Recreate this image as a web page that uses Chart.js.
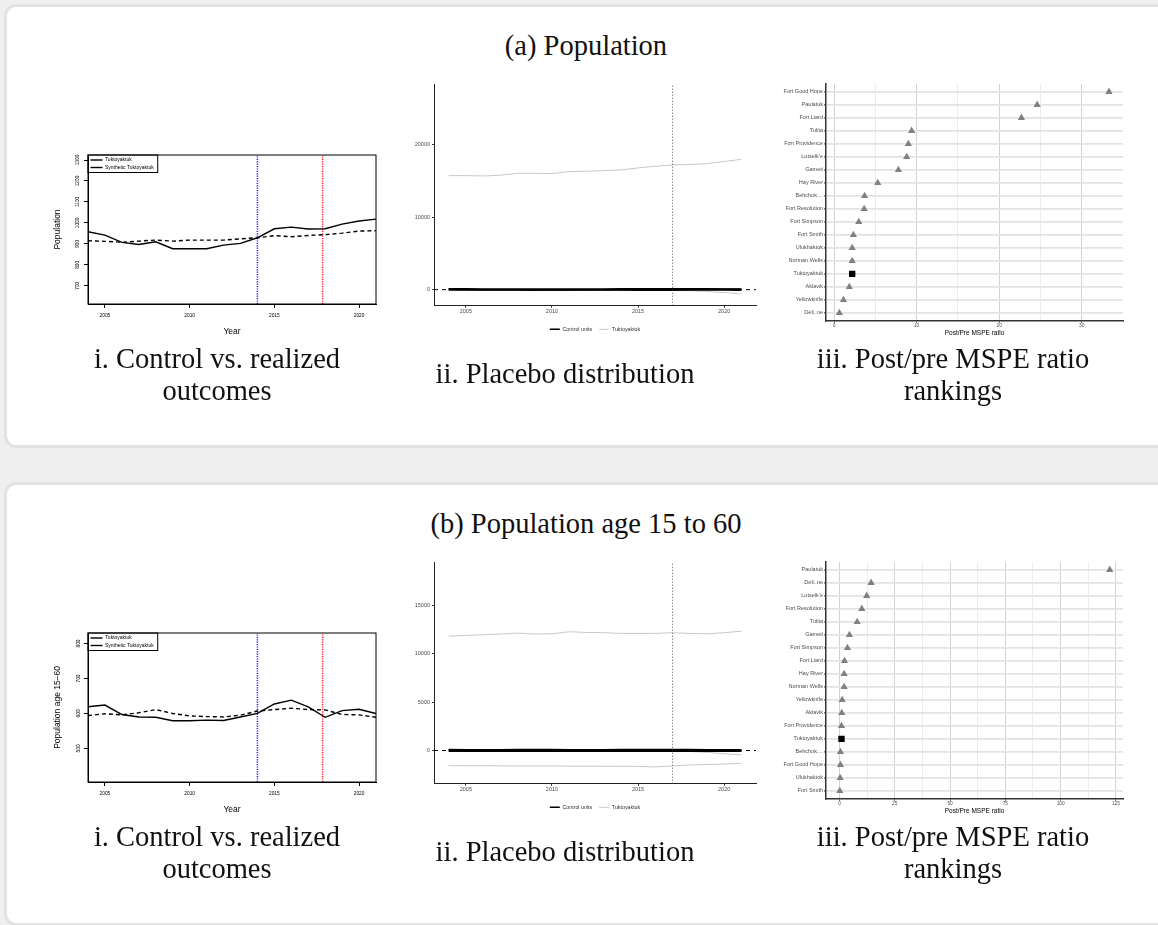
<!DOCTYPE html>
<html>
<head>
<meta charset="utf-8">
<script src="https://cdn.jsdelivr.net/npm/chart.js@4.4.1/dist/chart.umd.min.js"></script>
<style>
html, body { margin: 0; padding: 0; background: #efefef; width: 1158px; height: 925px; overflow: hidden; }
.card { position: absolute; left: 4px; width: 1190px; height: 444px; background: #fff; border: 3px solid #e2e2e2; border-radius: 12px; box-sizing: border-box; }
canvas { position: absolute; }
.txt { position: absolute; font-family: "Liberation Serif", "Times New Roman", serif; font-size: 28.5px; line-height: 32px; text-align: center; color: #111; white-space: nowrap; }
</style>
</head>
<body>
<div class="card" style="top:4px"></div>
<div class="card" style="top:482px"></div>

<div class="txt" style="left:0;width:1172px;top:30px">(a) Population</div>
<canvas id="a1" width="345" height="205" style="left:40px;top:140px"></canvas>
<canvas id="a2" width="390" height="280" style="left:380px;top:75px"></canvas>
<canvas id="a3" width="390" height="265" style="left:760px;top:75px"></canvas>
<div class="txt" style="left:17px;width:400px;top:343px">i. Control vs. realized<br>outcomes</div>
<div class="txt" style="left:365px;width:400px;top:358px">ii. Placebo distribution</div>
<div class="txt" style="left:753px;width:400px;top:343px">iii. Post/pre MSPE ratio<br>rankings</div>

<div class="txt" style="left:0;width:1172px;top:508px">(b) Population age 15 to 60</div>
<canvas id="b1" width="345" height="205" style="left:40px;top:618px"></canvas>
<canvas id="b2" width="390" height="280" style="left:380px;top:553px"></canvas>
<canvas id="b3" width="390" height="265" style="left:760px;top:553px"></canvas>
<div class="txt" style="left:17px;width:400px;top:821px">i. Control vs. realized<br>outcomes</div>
<div class="txt" style="left:365px;width:400px;top:836px">ii. Placebo distribution</div>
<div class="txt" style="left:753px;width:400px;top:821px">iii. Post/pre MSPE ratio<br>rankings</div>

<script>
// ---- data ----
const years = [2004, 2005, 2006, 2007, 2008, 2009, 2010, 2011, 2012, 2013, 2014, 2015, 2016, 2017, 2018, 2019, 2020, 2021];
const treatYear = 2014;
const postYear = 2017.85;
const placeboYear = 2017;

// (a) population
const popActual = [958, 942, 907, 897, 910, 877, 877, 877, 894, 902, 929, 972, 980, 971, 972, 994, 1009, 1018];
const popSynth  = [915, 912, 908, 913, 918, 913, 918, 918, 918, 924, 929, 939, 934, 940, 944, 951, 961, 963];
const popTicks = [700, 800, 900, 1000, 1100, 1200, 1300];

const popControl1 = [43, 30, -1, -16, -8, -36, -41, -41, -24, -22, 0, 33, 46, 31, 28, 43, 48, 55];
const popControl2 = [120, 110, 100, 95, 90, 80, 85, 90, 100, 105, 110, 120, 125, 130, 120, 110, 100, 90];
const popControl3 = [-60, -50, -40, -50, -60, -70, -60, -50, -40, -50, -60, -70, -80, -70, -60, -50, -60, -70];
const popGrayHigh = [15750, 15750, 15700, 15800, 16070, 16070, 16030, 16300, 16350, 16440, 16540, 16810, 17040, 17230, 17280, 17410, 17690, 18010];
const popGrayLow  = [40, 30, 20, 10, 0, -10, -20, -20, -30, -20, -10, 0, 10, 0, -150, -250, -400, -600];
const popPlaceboTicks = [0, 10000, 20000];

const popNames = ['Fort Good Hope', 'Paulatuk', 'Fort Liard', 'Tulita', 'Fort Providence', 'Lutselk’e', 'Gameti', 'Hay River', 'Behchok....', 'Fort Resolution', 'Fort Simpson', 'Fort Smith', 'Ulukhaktok', 'Norman Wells', 'Tuktoyaktuk', 'Aklavik', 'Yellowknife', 'Déli..ne'];
const popRatio = [33.3, 24.6, 22.7, 9.4, 9.0, 8.8, 7.8, 5.3, 3.7, 3.65, 3.0, 2.35, 2.2, 2.2, 2.2, 1.85, 1.15, 0.65];

// (b) population age 15 to 60
const ageActual = [619, 624, 597, 590, 589, 579, 579, 581, 580, 590, 600, 627, 638, 619, 589, 608, 612, 600];
const ageSynth  = [594, 599, 596, 602, 611, 600, 593, 591, 590, 595, 607, 611, 615, 611, 610, 597, 596, 589];
const ageTicks = [500, 600, 700, 800];

const ageControl1 = [25, 25, 1, -12, -22, -21, -14, -10, -10, -5, -7, 16, 23, 8, -21, 11, 16, 11];
const ageControl2 = [90, 85, 80, 85, 90, 95, 90, 85, 80, 85, 90, 95, 100, 95, 90, 85, 80, 85];
const ageControl3 = [-80, -85, -90, -85, -80, -75, -80, -85, -90, -85, -80, -75, -70, -75, -80, -85, -90, -85];
const ageGrayHigh = [11840, 11910, 11980, 12050, 12150, 12050, 12080, 12290, 12220, 12190, 12120, 12120, 12120, 12190, 12120, 12080, 12190, 12360];
const ageGrayMid  = [30, 20, 10, 0, -10, -20, -20, -10, 0, 10, 20, 10, 0, -20, -100, -200, -330, -450];
const ageGrayLow  = [-1560, -1580, -1580, -1590, -1600, -1600, -1600, -1620, -1620, -1630, -1640, -1650, -1700, -1600, -1500, -1450, -1400, -1350];
const agePlaceboTicks = [0, 5000, 10000, 15000];

const ageNames = ['Paulatuk', 'Déli..ne', 'Lutselk’e', 'Fort Resolution', 'Tulita', 'Gameti', 'Fort Simpson', 'Fort Liard', 'Hay River', 'Norman Wells', 'Yellowknife', 'Aklavik', 'Fort Providence', 'Tuktoyaktuk', 'Behchok....', 'Fort Good Hope', 'Ulukhaktok', 'Fort Smith'];
const ageRatio = [122.2, 14.3, 12.3, 10.1, 8.0, 4.5, 3.6, 2.25, 2.1, 2.1, 1.2, 1.05, 0.9, 0.9, 0.45, 0.45, 0.3, 0.15];

// ---- setup ----
Chart.defaults.font.family = '"Liberation Sans", Arial, Helvetica, sans-serif';
Chart.defaults.color = '#000';
Chart.defaults.animation = false;
Chart.defaults.responsive = false;
Chart.defaults.plugins.tooltip.enabled = false;

// legend placed in the top-left corner of the plot, with a box round it (base R look)
Chart.register({
  id: 'frame',
  afterLayout(chart, args, opts) {
    if (!opts.legend || !chart.legend) return;
    const lg = chart.legend, a = chart.chartArea;
    lg.left = a.left; lg.top = a.top; lg.right = a.right; lg.bottom = a.bottom;
    lg.width = a.right - a.left; lg.height = a.bottom - a.top;
  },
  afterDraw(chart, args, opts) {
    const ctx = chart.ctx, a = chart.chartArea;
    ctx.save();
    ctx.strokeStyle = '#000';
    ctx.lineWidth = 1;
    if (opts.box) ctx.strokeRect(a.left, a.top, a.right - a.left, a.bottom - a.top);
    if (opts.legend && chart.legend && chart.legend.legendHitBoxes.length) {
      let r = 0, b = 0;
      chart.legend.legendHitBoxes.forEach(h => { r = Math.max(r, h.left + h.width); b = Math.max(b, h.top + h.height); });
      ctx.strokeRect(a.left, a.top, r + 4 - a.left, b + 2.5 - a.top);
    }
    ctx.restore();
  }
});

const pts = arr => years.map((x, i) => ({ x: x, y: arr[i] }));
const setTicks = vals => s => { s.ticks = vals.map(v => ({ value: v })); };

function controlChart(id, actual, synth, yMin, yMax, yTicks, yTitle) {
  new Chart(document.getElementById(id), {
    type: 'line',
    data: {
      datasets: [
        { label: 'Tuktoyaktuk', data: pts(actual), borderColor: '#000', borderWidth: 1.4, pointRadius: 0 },
        { label: 'Synthetic Tuktoyaktuk', data: pts(synth), borderColor: '#000', borderWidth: 1.4, borderDash: [4, 3], pointRadius: 0 },
        { label: 'treat', data: [{ x: treatYear, y: yMin }, { x: treatYear, y: yMax }], borderColor: '#2020ff', borderWidth: 1.5, borderDash: [1.2, 1.2], pointRadius: 0 },
        { label: 'post', data: [{ x: postYear, y: yMin }, { x: postYear, y: yMax }], borderColor: '#ff2020', borderWidth: 1.5, borderDash: [1.2, 1.2], pointRadius: 0 }
      ]
    },
    options: {
      layout: { padding: { top: 15, right: 9, left: 0, bottom: 0 } },
      plugins: {
        frame: { box: true, legend: true },
        legend: {
          position: 'chartArea', align: 'start',
          labels: {
            usePointStyle: true, pointStyle: 'line', pointStyleWidth: 12,
            font: { size: 5 }, color: '#000', padding: 2.5,
            filter: item => item.datasetIndex < 2
          }
        }
      },
      scales: {
        x: {
          type: 'linear', min: 2004, max: 2021,
          afterBuildTicks: setTicks([2005, 2010, 2015, 2020]),
          afterFit: s => { s.height = 41; },
          grid: { drawOnChartArea: false, tickLength: 4, color: '#000' },
          border: { color: '#000' },
          ticks: { font: { size: 4.8 }, color: '#000', padding: 4.5, maxRotation: 0, autoSkip: false, callback: v => String(v) },
          title: { display: true, text: 'Year', font: { size: 8.5 }, color: '#000', padding: { top: 0, bottom: 8 } }
        },
        y: {
          min: yMin, max: yMax,
          afterBuildTicks: setTicks(yTicks),
          afterFit: s => { s.width = 48; },
          grid: { drawOnChartArea: false, tickLength: 4, color: '#000' },
          border: { color: '#000' },
          ticks: { font: { size: 4.8 }, color: '#000', padding: 1, minRotation: 90, maxRotation: 90, crossAlign: 'center', autoSkip: false, callback: v => String(v) },
          title: { display: true, text: yTitle, font: { size: 8.5 }, color: '#000', padding: { top: 12.9, bottom: 0 } }
        }
      }
    }
  });
}

function placeboChart(id, controls, grays, yMin, yMax, yTicks) {
  const xMin = 2003.15, xMax = 2021.85;
  const ds = [
    { label: 'zero', data: [{ x: xMin, y: 0 }, { x: xMax, y: 0 }], borderColor: '#000', borderWidth: 1, borderDash: [4, 4], pointRadius: 0 },
    { label: 'placebo', data: [{ x: placeboYear, y: yMin }, { x: placeboYear, y: yMax }], borderColor: '#444', borderWidth: 0.9, borderDash: [1, 2], pointRadius: 0 }
  ];
  controls.forEach(c => ds.push({ label: 'Control units', data: pts(c), borderColor: '#000', borderWidth: 1.5, pointRadius: 0 }));
  grays.forEach(g => ds.push({ label: 'Tuktoyaktuk', data: pts(g), borderColor: '#c8c8c8', borderWidth: 1, pointRadius: 0 }));

  new Chart(document.getElementById(id), {
    type: 'line',
    data: { datasets: ds },
    options: {
      layout: { padding: { top: 9, right: 14, left: 0, bottom: 13 } },
      plugins: {
        legend: {
          position: 'bottom', fullSize: false,
          labels: {
            usePointStyle: true, pointStyle: 'line', pointStyleWidth: 10,
            font: { size: 5.3 }, color: '#333', padding: 7,
            filter: (item, data) => ['Control units', 'Tuktoyaktuk'].includes(item.text) &&
              data.datasets.findIndex(d => d.label === item.text) === item.datasetIndex
          }
        }
      },
      scales: {
        x: {
          type: 'linear', min: xMin, max: xMax,
          afterBuildTicks: setTicks([2005, 2010, 2015, 2020]),
          afterFit: s => { s.height = 14; },
          grid: { drawOnChartArea: false, tickLength: 2, color: '#333' },
          border: { color: '#222', width: 1 },
          ticks: { font: { size: 5.5 }, color: '#4d4d4d', padding: 0, maxRotation: 0, autoSkip: false, callback: v => String(v) }
        },
        y: {
          min: yMin, max: yMax,
          afterBuildTicks: setTicks(yTicks),
          afterFit: s => { s.width = 54; },
          grid: { drawOnChartArea: false, tickLength: 2, color: '#333' },
          border: { color: '#222', width: 1 },
          ticks: { font: { size: 5.5 }, color: '#4d4d4d', padding: 2, autoSkip: false, callback: v => String(v) }
        }
      }
    }
  });
}

function mspeChart(id, names, vals, xMin, xMax, xTicks, major) {
  const isT = n => n === 'Tuktoyaktuk';
  new Chart(document.getElementById(id), {
    type: 'scatter',
    data: {
      datasets: [{
        data: names.map((n, i) => ({ x: vals[i], y: i })),
        pointStyle: names.map(n => isT(n) ? 'rect' : 'triangle'),
        pointRadius: names.map(n => isT(n) ? 4.5 : 4.2),
        pointBackgroundColor: names.map(n => isT(n) ? '#000' : '#808080'),
        pointBorderWidth: 0
      }]
    },
    options: {
      layout: { padding: { top: 9, right: 27, left: 0, bottom: 0 } },
      plugins: { legend: { display: false } },
      scales: {
        x: {
          type: 'linear', min: xMin, max: xMax,
          afterBuildTicks: setTicks(xTicks),
          afterFit: s => { s.height = 19.3; },
          grid: {
            color: c => (c.tick && c.tick.value % major === 0) ? '#d2d2d2' : '#ececec',
            tickColor: c => (c.tick && c.tick.value % major === 0) ? '#333' : 'rgba(0,0,0,0)',
            tickLength: 2, lineWidth: 1
          },
          border: { color: '#333', width: 1.5 },
          ticks: { font: { size: 4.8 }, color: '#4d4d4d', padding: 0.5, maxRotation: 0, autoSkip: false,
                   callback: v => v % major === 0 ? String(v) : '' },
          title: { display: true, text: 'Post/Pre MSPE ratio', font: { size: 6.5 }, color: '#000', padding: { top: 0, bottom: 2.8 } }
        },
        y: {
          type: 'linear', min: -0.6, max: 17.6, reverse: true,
          afterBuildTicks: setTicks(names.map((n, i) => i)),
          afterFit: s => { s.width = 66; },
          grid: { color: '#e3e3e3', lineWidth: 1.8, tickLength: 2, tickColor: '#333', tickWidth: 1 },
          border: { color: '#333', width: 1.5 },
          ticks: { font: { size: 5.5 }, color: '#4d4d4d', padding: 1, autoSkip: false, callback: v => names[v] }
        }
      }
    }
  });
}

controlChart('a1', popActual, popSynth, 613, 1324, popTicks, 'Population');
placeboChart('a2', [popControl1, popControl2, popControl3], [popGrayHigh, popGrayLow], -2217, 28405, popPlaceboTicks);
mspeChart('a3', popNames, popRatio, -0.97, 35, [0, 5, 10, 15, 20, 25, 30], 10);

controlChart('b1', ageActual, ageSynth, 404, 830, ageTicks, 'Population age 15\u201360');
placeboChart('b2', [ageControl1, ageControl2, ageControl3], [ageGrayHigh, ageGrayMid, ageGrayLow], -3437, 19510, agePlaceboTicks);
mspeChart('b3', ageNames, ageRatio, -6.1, 128.2, [0, 12.5, 25, 37.5, 50, 62.5, 75, 87.5, 100, 112.5, 125], 25);
</script>
</body>
</html>
